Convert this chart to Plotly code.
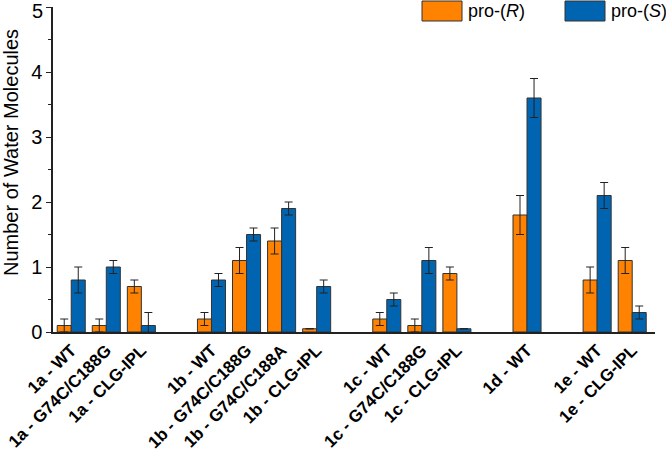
import plotly.graph_objects as go

labels = ["1a - WT", "1a - G74C/C188G", "1a - CLG-IPL", "",
          "1b - WT", "1b - G74C/C188G", "1b - G74C/C188A", "1b - CLG-IPL", "",
          "1c - WT", "1c - G74C/C188G", "1c - CLG-IPL", "",
          "1d - WT", "",
          "1e - WT", "1e - CLG-IPL"]
pro_R = [0.1, 0.1, 0.7, None, 0.2, 1.1, 1.4, 0.05, None, 0.2, 0.1, 0.9, None, 1.8, None, 0.8, 1.1]
pro_R_err = [0.1, 0.1, 0.1, None, 0.1, 0.2, 0.2, None, None, 0.1, 0.1, 0.1, None, 0.3, None, 0.2, 0.2]
pro_S = [0.8, 1.0, 0.1, None, 0.8, 1.5, 1.9, 0.7, None, 0.5, 1.1, 0.05, None, 3.6, None, 2.1, 0.3]
pro_S_err = [0.2, 0.1, 0.2, None, 0.1, 0.1, 0.1, 0.1, None, 0.1, 0.2, None, None, 0.3, None, 0.2, 0.1]
y_ticks = [0, 1, 2, 3, 4, 5]

x = list(range(len(labels)))
orange = "#FF8200"
blue = "#0064B0"
edge = "#333333"
FONT = "Liberation Sans, Arial, sans-serif"

ML, MR, MT, MB = 53, 11, 7, 120

fig = go.Figure()
fig.add_trace(go.Bar(x=x, y=pro_R, name="pro-(R)", marker=dict(color=orange, line=dict(color=edge, width=1)),
                     error_y=dict(type="data", array=pro_R_err, visible=True, color="#222222", thickness=1, width=4)))
fig.add_trace(go.Bar(x=x, y=pro_S, name="pro-(S)", marker=dict(color=blue, line=dict(color=edge, width=1)),
                     error_y=dict(type="data", array=pro_S_err, visible=True, color="#222222", thickness=1, width=4)))

fig.update_layout(
    width=666, height=452,
    margin=dict(l=ML, r=MR, t=MT, b=MB, autoexpand=False),
    paper_bgcolor="white", plot_bgcolor="white",
    barmode="group", bargap=0.2, bargroupgap=0,
    showlegend=False,
    font=dict(family=FONT, color="black"),
)
fig.update_xaxes(
    range=[-0.52, 16.65], tickmode="array",
    tickvals=[i for i, l in enumerate(labels) if l], ticktext=[l for l in labels if l],
    tickangle=-45, tickfont=dict(size=17, family=FONT, weight="bold"),
    showline=True, linecolor="#222222", linewidth=1.5, ticks="", showgrid=False, zeroline=False,
    automargin=False, ticklabeloverflow="allow",
)
fig.update_yaxes(
    range=[0, 5], tickmode="array", tickvals=y_ticks,
    ticktext=[str(v) if v != 5 else "" for v in y_ticks], tickfont=dict(size=20),
    showline=True, linecolor="#222222", linewidth=1.5, ticks="outside", ticklen=5, tickwidth=1.2,
    tickcolor="#222222",
    minor=dict(tickvals=[0.5, 1.5, 2.5, 3.5, 4.5], ticks="outside", ticklen=3, tickwidth=1.2, tickcolor="#222222"),
    showgrid=False, zeroline=False, automargin=False, ticklabeloverflow="allow",
)

def px(xp):
    return (xp - ML) / (666 - ML - MR)
def py(yp):
    return 1 - (yp - MT) / (452 - MT - MB)

# top tick label, nudged down as in the reference (it sits at the figure's top edge)
fig.add_annotation(xref="paper", yref="y", x=0, y=y_ticks[-1], yshift=-4, xshift=-8, text=str(y_ticks[-1]),
                   showarrow=False, xanchor="right", yanchor="middle", font=dict(size=20))

# y-axis title
fig.add_annotation(xref="paper", yref="paper", x=px(11), y=py(153), text="Number of Water Molecules",
                   showarrow=False, textangle=-90, xanchor="center", yanchor="middle", font=dict(size=20))

# legend drawn as boxes + text
fig.add_shape(type="rect", xref="paper", yref="paper", x0=px(422), x1=px(462), y0=py(21), y1=py(1),
              fillcolor=orange, line=dict(color=edge, width=1))
fig.add_shape(type="rect", xref="paper", yref="paper", x0=px(565), x1=px(605), y0=py(21), y1=py(1),
              fillcolor=blue, line=dict(color=edge, width=1))
fig.add_annotation(xref="paper", yref="paper", x=px(466), y=py(11), text="pro-(<i>R</i>)", showarrow=False,
                   xanchor="left", yanchor="middle", font=dict(size=18))
fig.add_annotation(xref="paper", yref="paper", x=px(609), y=py(11), text="pro-(<i>S</i>)", showarrow=False,
                   xanchor="left", yanchor="middle", font=dict(size=18))

fig.write_html("out.html", config={"displayModeBar": False},
               post_script="document.body.style.margin='0px';document.body.style.padding='0px';")
